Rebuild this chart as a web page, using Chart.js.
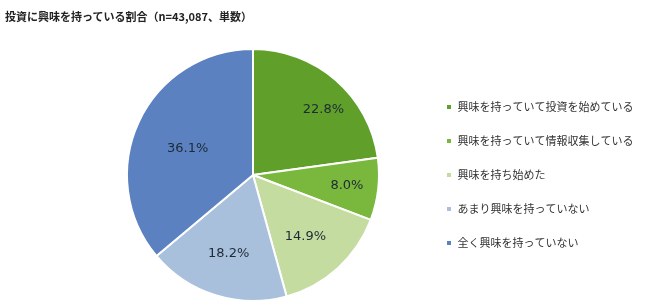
<!DOCTYPE html>
<html>
<head>
<meta charset="utf-8">
<script src="https://cdn.jsdelivr.net/npm/chart.js@4.4.1/dist/chart.umd.min.js"></script>
<style>
  html, body { margin: 0; padding: 0; background: #ffffff; }
  #wrap { position: relative; width: 645px; height: 308px; }
  #title { position: absolute; left: 5px; top: 8px; font: bold 11px "Noto Sans CJK JP", sans-serif; color: #222; white-space: nowrap; }
  canvas { position: absolute; left: 0; top: 0; }
</style>
</head>
<body>
<div id="wrap">
  <canvas id="c" width="645" height="308"></canvas>
  <div id="title">投資に興味を持っている割合（n=43,087、単数）</div>
</div>
<script>
const categories = ['興味を持っていて投資を始めている', '興味を持っていて情報収集している', '興味を持ち始めた', 'あまり興味を持っていない', '全く興味を持っていない'];
const values = [22.8, 8.0, 14.9, 18.2, 36.1];
const colors = ['#5f9f2a', '#79b83c', '#c5dca0', '#a9c0dd', '#5b81c0'];

const labelRadius = [0.76, 0.75, 0.64, 0.65, 0.56];
const labelAngleShift = [0.11, 0, 0.03, 0, -0.05];

const pctLabels = {
  id: 'pctLabels',
  afterDatasetsDraw(chart) {
    const ctx = chart.ctx;
    const meta = chart.getDatasetMeta(0);
    ctx.save();
    ctx.font = '13px "DejaVu Sans", sans-serif';
    ctx.fillStyle = '#1e2a36';
    ctx.textAlign = 'center';
    ctx.textBaseline = 'middle';
    meta.data.forEach((arc, i) => {
      const p = arc.getProps(['x', 'y', 'startAngle', 'endAngle', 'outerRadius'], true);
      const mid = (p.startAngle + p.endAngle) / 2 + labelAngleShift[i];
      const r = p.outerRadius * labelRadius[i];
      ctx.fillText(values[i].toFixed(1) + '%', p.x + Math.cos(mid) * r, p.y + Math.sin(mid) * r);
    });
    ctx.restore();
  }
};

const legendWidth = {
  id: 'legendWidth',
  beforeLayout(chart) {
    const lg = chart.legend;
    if (lg && !lg._fitPatched) {
      const orig = lg.fit;
      lg.fit = function () { orig.call(this); this.width = 222; };
      lg._fitPatched = true;
    }
  }
};

new Chart(document.getElementById('c'), {
  type: 'pie',
  data: {
    labels: categories,
    datasets: [{
      data: values,
      backgroundColor: colors,
      borderColor: '#ffffff',
      borderWidth: 2
    }]
  },
  options: {
    responsive: false,
    animation: false,
    layout: { padding: { left: 83, right: 0, top: 48, bottom: 6 } },
    plugins: {
      tooltip: { enabled: false },
      legend: {
        position: 'right',
        align: 'center',
        labels: {
          boxWidth: 6,
          boxHeight: 6,
          padding: 23,
          color: '#333',
          font: { family: '"Noto Sans CJK JP", sans-serif', size: 11 }
        }
      }
    }
  },
  plugins: [pctLabels, legendWidth]
});
</script>
</body>
</html>
